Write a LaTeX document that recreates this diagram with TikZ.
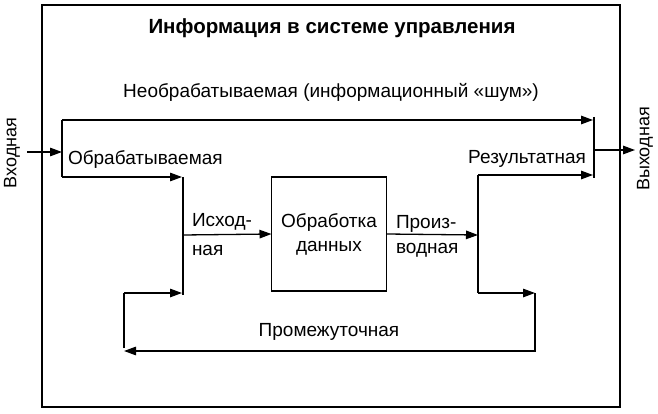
\documentclass[tikz,border=0pt]{standalone}
\usepackage{fontspec}
\setmainfont{Liberation Sans}
\usetikzlibrary{arrows.meta}
\begin{document}
\begin{tikzpicture}[x=1pt,y=-1pt,
  every node/.style={inner sep=0pt,outer sep=0pt},
  lbl/.style={font=\fontsize{19}{22}\selectfont},
  rlbl/.style={font=\fontsize{18}{22}\selectfont,rotate=90},
  ttl/.style={font=\fontsize{20.5}{24}\selectfont\bfseries},
  ln/.style={line width=1.3pt},
  arr/.style={ln,-{Triangle[length=12pt,width=8.5pt]}},
  frame/.style={line width=2pt},
  procbox/.style={draw,line width=1.6pt,minimum width=115pt,minimum height=114pt,align=center,font=\fontsize{19}{24}\selectfont}]
\useasboundingbox (0,0) rectangle (658,414);
\draw[frame] (42,5) rectangle (620,407);
\node[ttl] (title) at (332,28) {Информация в системе управления};
% coordinates
\coordinate (in0) at (27,152);
\coordinate (lbin) at (62,152);
\coordinate (lbt) at (62,120);
\coordinate (lbb) at (62,177);
\coordinate (rbt) at (594,117);
\coordinate (rbb) at (594,178);
\coordinate (rbm) at (594,150);
\coordinate (out) at (635,150);
\coordinate (topend) at (593,120);
\coordinate (lvt) at (183,177);
\coordinate (lvb) at (183,295);
\coordinate (lvm) at (183,235);
\coordinate (rvt) at (478,175);
\coordinate (rvb) at (478,293);
\coordinate (rvm) at (478,235);
\coordinate (resend) at (593,175);
\coordinate (brend) at (535,293);
\coordinate (brv) at (535,351);
\coordinate (fbend) at (124,351);
\coordinate (flt) at (124,293);
\coordinate (flb) at (124,348);
\node[procbox] (proc) at (329,234) {Обработка\\данных};
% labels
\node[rlbl] (inlbl) at (12,153) {Входная};
\node[rlbl] (outlbl) at (645,149) {Выходная};
\node[lbl] (noise) at (331,92) {Необрабатываемая (информационный «шум»)};
\node[lbl,anchor=west] (obr) at (68,160) {Обрабатываемая};
\node[lbl,anchor=east] (res) at (586,159) {Результатная};
\node[lbl,anchor=west] (isx1) at (192,222) {Исход-};
\node[lbl,anchor=west] (isx2) at (192,250) {ная};
\node[lbl,anchor=west] (pr1) at (396,224) {Произ-};
\node[lbl,anchor=west] (pr2) at (396,250) {водная};
\node[lbl] (prom) at (329,332) {Промежуточная};
% connectors
\draw[arr] (in0) -- (lbin);
\draw[ln] (lbt) -- (lbb);
\draw[arr] (lbt) -- (topend);
\draw[arr] (lbb) -- (lvt -| 182,0);
\draw[ln] (lvt) -- (lvb);
\draw[arr] (lvm) -- (proc.west);
\draw[arr] (proc.east) -- (rvm);
\draw[ln] (rvt) -- (rvb);
\draw[arr] (rvt) -- (resend);
\draw[ln] (rbt) -- (rbb);
\draw[arr] (rbm) -- (out);
\draw[arr] (rvb) -- (brend);
\draw[arr] (brend) -- (brv) -- (fbend);
\draw[ln] (flb) -- (flt);
\draw[arr] (flt) -- (flt -| 182,0);
\end{tikzpicture}
\end{document}
